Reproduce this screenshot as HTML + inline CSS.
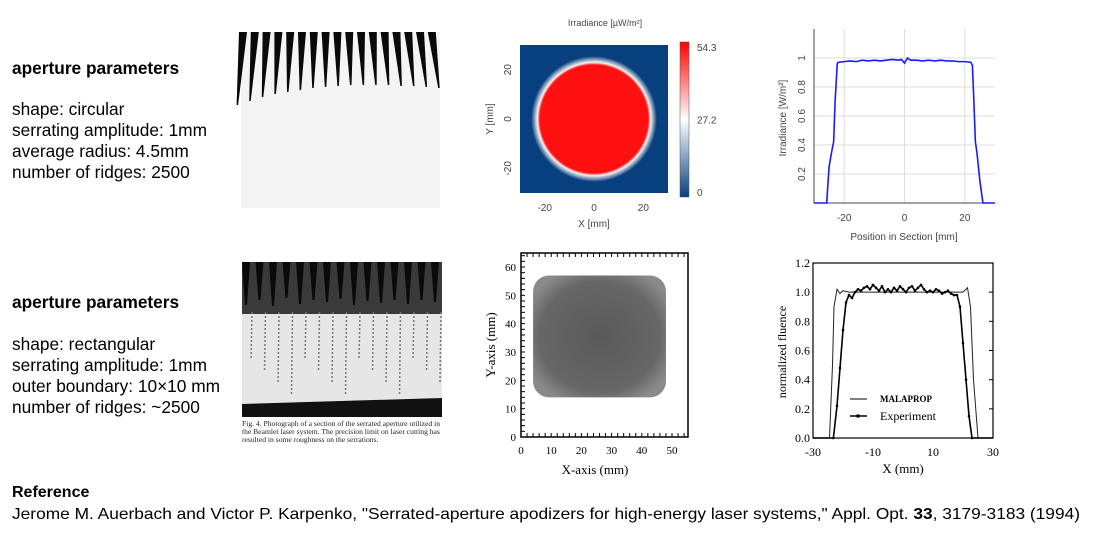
<!DOCTYPE html>
<html><head><meta charset="utf-8"><style>
html,body{margin:0;padding:0;background:#fff;width:1096px;height:533px;overflow:hidden}
svg{display:block}
.s{font-family:"Liberation Sans",sans-serif}
.r{font-family:"Liberation Serif",serif}
</style></head><body>
<svg id="root" width="1096" height="533" viewBox="0 0 1096 533" xmlns="http://www.w3.org/2000/svg">
<defs>
<radialGradient id="glow" cx="0.5" cy="0.5" r="0.5">
<stop offset="0.86" stop-color="#ff1010"/><stop offset="0.90" stop-color="#f4f4f4"/><stop offset="1" stop-color="#083f7e"/>
</radialGradient>
<linearGradient id="cbar" x1="0" y1="1" x2="0" y2="0">
<stop offset="0" stop-color="#083f7e"/><stop offset="0.5" stop-color="#ffffff"/><stop offset="1" stop-color="#ff0000"/>
</linearGradient>
<radialGradient id="sq" cx="0.5" cy="0.5" r="0.6"><stop offset="0" stop-color="#5a5a5a"/><stop offset="0.75" stop-color="#666"/><stop offset="1" stop-color="#8a8a8a"/></radialGradient>
</defs>

<g class="s" font-size="17.3" fill="#000">
<text x="12" y="74" font-weight="bold">aperture parameters</text>
<text x="12" y="115">shape: circular</text>
<text x="12" y="136">serrating amplitude: 1mm</text>
<text x="12" y="157">average radius: 4.5mm</text>
<text x="12" y="178">number of ridges: 2500</text>
<text x="12" y="308" font-weight="bold">aperture parameters</text>
<text x="12" y="350">shape: rectangular</text>
<text x="12" y="371">serrating amplitude: 1mm</text>
<text x="12" y="392">outer boundary: 10×10 mm</text>
<text x="12" y="413">number of ridges: ~2500</text>
</g>
<g class="s" font-size="16" fill="#000">
<text x="12" y="497" font-weight="bold">Reference</text>
<text x="12" y="519" textLength="1068" lengthAdjust="spacingAndGlyphs">Jerome M. Auerbach and Victor P. Karpenko, "Serrated-aperture apodizers for high-energy laser systems," Appl. Opt. <tspan font-weight="bold">33</tspan>, 3179-3183 (1994)</text>
</g>

<g id="photo1">
<rect x="241" y="32" width="199" height="176" fill="#f4f4f4"/>
</g>
<g id="photo2">
<rect x="242" y="262" width="200" height="155" fill="#e6e6e6"/>
<rect x="242" y="262" width="200" height="52" fill="#3a3a3a"/>
<polygon points="242,404 442,398 442,417 242,417" fill="#111"/>
</g>
<g class="r" font-size="7.6" fill="#222">
<text x="242" y="426">Fig. 4.   Photograph of a section of the serrated aperture utilized in</text>
<text x="242" y="434">the Beamlet laser system.   The precision limit on laser cutting has</text>
<text x="242" y="442">resulted in some roughness on the serrations.</text>
</g>

<g id="heat"></g>
<g id="prof"></g>
<g id="meas"></g>
<g id="flu"></g>
</svg>
<script>
// ---- data ----
const photoSpikeTips = [105,101,97,94,92,90,88,87,86,85,85,85,85,86,86,87,88];
const photo2SpikeTips = [305,300,306,298,304,300,302,299,305,301,303,300,304,300,302];
const heatTicks = [-20, 0, 20];
const heatRange = [-30, 30];
const beamRadiusMm = 25.5;
const colorbarLabels = ["54.3", "27.2", "0"];
const colorbarValues = [54.3, 27.2, 0];
const profX = [-30,-25.8,-25,-24,-23.5,-23,-22.3,-22,-20,-18,-16,-14,-12,-10,-8,-6,-4,-2,-1,0,1,2,4,6,8,10,12,14,16,18,20,22,22.5,23,23.5,24,25,26,30];
const profY = [0,0,0.25,0.37,0.42,0.7,0.96,0.97,0.975,0.98,0.975,0.985,0.98,0.985,0.98,0.985,0.99,0.985,0.99,0.965,1.0,0.985,0.985,0.98,0.985,0.98,0.985,0.98,0.98,0.975,0.975,0.97,0.95,0.7,0.42,0.35,0.15,0,0];
const profXTicks = [-20, 0, 20];
const profYTicks = [0.2, 0.4, 0.6, 0.8, 1];
const measXTicks = [0,10,20,30,40,50];
const measYTicks = [0,10,20,30,40,50,60];
const measSquare = [4, 48, 14, 57];
const fluXTicks = [-30,-10,10,30];
const fluYTicks = [0,0.2,0.4,0.6,0.8,1.0,1.2];
const malX = [-30,-24.5,-23.5,-23,-22,-21,-20,-18,-15,-10,-5,0,5,10,15,18,20,21,21.5,22.5,23.5,25,30];
const malY = [0,0,0.5,0.9,1.02,0.99,1.01,1.0,1.0,1.0,1.0,1.0,1.0,1.0,1.0,1.0,1.0,1.02,1.03,0.9,0.4,0,0];
const expX = [-30,-23.2,-22,-21,-20,-19,-18,-17,-16,-15,-14,-13,-12,-11,-10,-9,-8,-7,-6,-5,-4,-3,-2,-1,0,1,2,3,4,5,6,7,8,9,10,11,12,13,14,15,16,17,18,19,20,21,22,23,30];
const expY = [0,0,0.22,0.48,0.74,0.93,0.98,0.96,1.0,1.02,1.01,1.03,1.04,1.02,1.05,1.03,1.01,1.04,1.0,1.02,1.0,1.03,1.01,1.04,1.02,1.0,1.03,1.04,1.01,1.03,1.05,1.02,1.0,1.01,1.0,1.02,1.01,0.99,1.0,1.01,0.99,0.98,0.98,0.9,0.65,0.4,0.15,0,0];

const NS="http://www.w3.org/2000/svg";
function mk(parent, tag, attrs, txt){const e=document.createElementNS(NS,tag);for(const k in attrs)e.setAttribute(k,attrs[k]);if(txt!==undefined)e.textContent=txt;parent.appendChild(e);return e;}
function lin(d0,d1,r0,r1){return v=>r0+(v-d0)*(r1-r0)/(d1-d0);}

const p1=document.getElementById('photo1');
photoSpikeTips.forEach((tip,i)=>{const cx=243+i*11.8;const lean=(8-i)*0.8;
 const s=mk(p1,'polygon',{points:`${cx-4},32 ${cx+4},32 ${cx+1.5-lean},${tip} ${cx-lean},${tip}`,fill:'#0a0a0a'});
 
 });
const p2=document.getElementById('photo2');
photo2SpikeTips.forEach((tip,i)=>{const cx=246+i*13.5;
 const s=mk(p2,'polygon',{points:`${cx-4},262 ${cx+4},262 ${cx+1},${tip} ${cx-1},${tip}`,fill:'#0a0a0a'});
 
 
 const l=mk(p2,'line',{x1:cx+6,y1:312,x2:cx+5,y2:360+(i%4)*12,stroke:'#777','stroke-width':1.5,'stroke-dasharray':'2 2'});
 
 });

(function(){const g=document.getElementById('heat');
 const X0=520,X1=668,Y0=45,Y1=193;const sx=lin(heatRange[0],heatRange[1],X0,X1),sy=lin(heatRange[0],heatRange[1],Y1,Y0);
 const t=mk(g,'text',{x:605,y:26,'font-size':9,'text-anchor':'middle',fill:'#444',class:'s'},'Irradiance  [µW/m²]');
 
 
 mk(g,'rect',{x:X0,y:Y0,width:X1-X0,height:Y1-Y0,fill:'#083f7e'});
 const r=sx(beamRadiusMm)-sx(0);
 const c=mk(g,'circle',{cx:sx(0),cy:sy(0),r:r,fill:'url(#glow)'});
 
 
 heatTicks.forEach(v=>{
  const a=mk(g,'text',{x:sx(v),y:211,'font-size':10,'text-anchor':'middle',fill:'#444',class:'s'},v);
  
  
  const b=mk(g,'text',{x:0,y:0,'font-size':10,'text-anchor':'middle',fill:'#444',class:'s',transform:`translate(511,${sy(v)}) rotate(-90)`},v);
  
  });
 const xt=mk(g,'text',{x:594,y:227,'font-size':10,'text-anchor':'middle',fill:'#444',class:'s'},'X [mm]');
 
 
 const yt=mk(g,'text',{x:0,y:0,'font-size':10,'text-anchor':'middle',fill:'#444',class:'s',transform:'translate(493,119) rotate(-90)'},'Y [mm]');
 
 
 const cb=mk(g,'rect',{x:680,y:42,width:9,height:155,fill:'url(#cbar)',stroke:'#555','stroke-width':0.5});
 
 
 const cy=lin(0,54.3,192,47);
 colorbarLabels.forEach((s,i)=>{const e=mk(g,'text',{x:697,y:cy(colorbarValues[i])+4,'font-size':10,fill:'#444',class:'s'},s);
  
  });
})();

(function(){const g=document.getElementById('prof');
 const X0=814,X1=995,Y0=29,Y1=203;const sx=lin(-30,30,X0,X1),sy=lin(0,1.2,Y1,Y0);
 profXTicks.forEach(v=>mk(g,'line',{x1:sx(v),x2:sx(v),y1:Y0,y2:Y1,stroke:'#ddd'}));
 profYTicks.forEach(v=>mk(g,'line',{x1:X0,x2:X1,y1:sy(v),y2:sy(v),stroke:'#ddd'}));
 mk(g,'polyline',{points:`${X0},${Y0} ${X0},${Y1} ${X1},${Y1}`,fill:'none',stroke:'#444'});
 const l=mk(g,'polyline',{points:profX.map((x,i)=>sx(x)+','+sy(profY[i])).join(' '),fill:'none',stroke:'#1a1aff','stroke-width':1.6});
 
 
 profXTicks.forEach(v=>{const e=mk(g,'text',{x:sx(v),y:221,'font-size':10,'text-anchor':'middle',fill:'#444',class:'s'},v);
  
  });
 profYTicks.forEach(v=>{const e=mk(g,'text',{x:0,y:0,'font-size':10,'text-anchor':'middle',fill:'#444',class:'s',transform:`translate(805,${sy(v)}) rotate(-90)`},v);
  
  });
 const xt=mk(g,'text',{x:904,y:240,'font-size':10,'text-anchor':'middle',fill:'#444',class:'s'},'Position in Section [mm]');
 
 
 const yt=mk(g,'text',{x:0,y:0,'font-size':10,'text-anchor':'middle',fill:'#444',class:'s',transform:'translate(786,118) rotate(-90)'},'Irradiance [W/m²]');
 
 
})();

(function(){const g=document.getElementById('meas');
 const X0=521,X1=688,Y0=253,Y1=437;const sx=lin(0,50,521,672),sy=lin(0,60,437,267);
 const q=mk(g,'rect',{x:sx(measSquare[0]),y:sy(measSquare[3]),width:sx(measSquare[1])-sx(measSquare[0]),height:sy(measSquare[2])-sy(measSquare[3]),rx:16,fill:'url(#sq)'});
 
 
 mk(g,'rect',{x:X0,y:Y0,width:X1-X0,height:Y1-Y0,fill:'none',stroke:'#000','stroke-width':1.5});
 for(let v=0;v<=55;v+=2){mk(g,'line',{x1:sx(v),x2:sx(v),y1:Y1,y2:Y1-4,stroke:'#000'});mk(g,'line',{x1:sx(v),x2:sx(v),y1:Y0,y2:Y0+4,stroke:'#000'});}
 for(let v=0;v<=64;v+=2){mk(g,'line',{x1:X0,x2:X0+4,y1:sy(v),y2:sy(v),stroke:'#000'});}
 measXTicks.forEach(v=>{const e=mk(g,'text',{x:sx(v),y:454,'font-size':11,'text-anchor':'middle',class:'r'},v);
  
  });
 measYTicks.forEach(v=>{const e=mk(g,'text',{x:516,y:sy(v)+4,'font-size':11,'text-anchor':'end',class:'r'},v);
  
  });
 const xt=mk(g,'text',{x:595,y:474,'font-size':13,'text-anchor':'middle',class:'r'},'X-axis (mm)');
 
 
 const yt=mk(g,'text',{x:0,y:0,'font-size':13,'text-anchor':'middle',class:'r',transform:'translate(495,345) rotate(-90)'},'Y-axis (mm)');
 
 
})();

(function(){const g=document.getElementById('flu');
 const X0=813,X1=993,Y0=263,Y1=438;const sx=lin(-30,30,X0,X1),sy=lin(0,1.2,Y1,Y0);
 mk(g,'rect',{x:X0,y:Y0,width:X1-X0,height:Y1-Y0,fill:'none',stroke:'#000','stroke-width':1.2});
 const m=mk(g,'polyline',{points:malX.map((x,i)=>sx(x)+','+sy(malY[i])).join(' '),fill:'none',stroke:'#222','stroke-width':1});
 
 
 const e=mk(g,'polyline',{points:expX.map((x,i)=>sx(x)+','+sy(expY[i])).join(' '),fill:'none',stroke:'#000','stroke-width':1.6});
 
 
 expX.forEach((x,i)=>{if(x>-30&&x<30){const d=mk(g,'circle',{cx:sx(x),cy:sy(expY[i]),r:1.3,fill:'#000'});
  
  }});
 fluXTicks.forEach(v=>{const t=mk(g,'text',{x:sx(v),y:456,'font-size':12,'text-anchor':'middle',class:'r'},v);
  
  });
 fluYTicks.forEach(v=>{mk(g,'line',{x1:X1,x2:X1-4,y1:sy(v),y2:sy(v),stroke:'#000'});
  const t=mk(g,'text',{x:810,y:sy(v)+4,'font-size':12,'text-anchor':'end',class:'r'},v.toFixed(1));
  
  });
 const xt=mk(g,'text',{x:903,y:473,'font-size':13,'text-anchor':'middle',class:'r'},'X  (mm)');
 
 
 const yt=mk(g,'text',{x:0,y:0,'font-size':12,'text-anchor':'middle',class:'r',transform:'translate(786,352) rotate(-90)'},'normalized fluence');
 
 
 mk(g,'line',{x1:850,x2:867,y1:399,y2:399,stroke:'#000'});
 const l1=mk(g,'text',{x:880,y:402,'font-size':9,'font-weight':'bold',class:'r'},'MALAPROP');
 
 
 mk(g,'line',{x1:850,x2:867,y1:416,y2:416,stroke:'#000','stroke-width':1.6});
 mk(g,'circle',{cx:858,cy:416,r:1.8,fill:'#000'});
 const l2=mk(g,'text',{x:880,y:420,'font-size':12,class:'r'},'Experiment');
 
 
})();
</script>
</body></html>
